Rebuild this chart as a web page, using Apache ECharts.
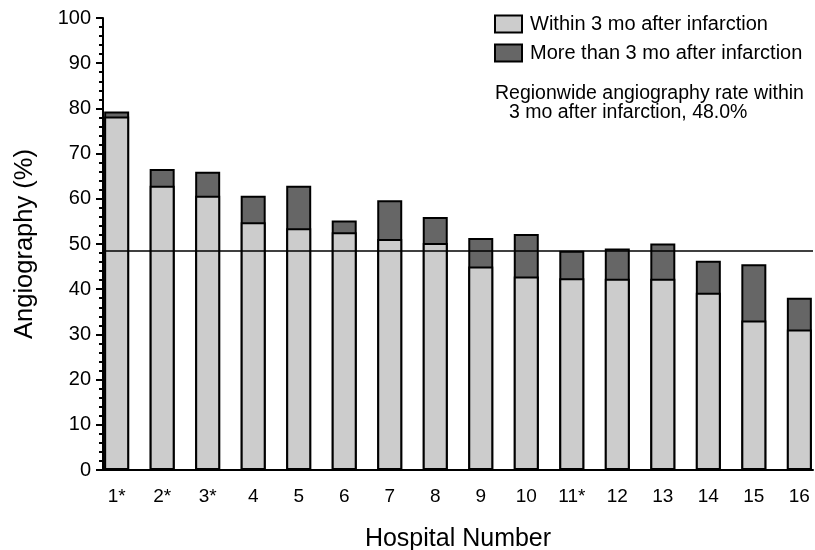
<!DOCTYPE html>
<html><head><meta charset="utf-8">
<script src="https://cdn.jsdelivr.net/npm/echarts@6/dist/echarts.min.js"></script>
<style>html,body{margin:0;padding:0;background:#fff}#c{width:815px;height:550px}</style>
</head><body><div id="c"></div>
<script>
const categories = ['1*','2*','3*','4','5','6','7','8','9','10','11*','12','13','14','15','16'];
const withinValues = [78.2, 62.9, 60.7, 54.8, 53.5, 52.6, 51.1, 50.2, 45.0, 42.8, 42.4, 42.3, 42.3, 39.2, 33.1, 31.1];
const laterValues  = [1.1, 3.7, 5.3, 5.9, 9.4, 2.6, 8.6, 5.8, 6.3, 9.4, 6.1, 6.7, 7.8, 7.1, 12.4, 7.0];
const refRate = 48.4;
const seriesNames = ['Within 3 mo after infarction', 'More than 3 mo after infarction'];
const noteLines = ['Regionwide angiography rate within', '3 mo after infarction, 48.0%'];
const xTitle = 'Hospital Number';
const yTitle = 'Angiography (%)';

const FONT = '"Liberation Sans", Arial, Helvetica, sans-serif';
const chart = echarts.init(document.getElementById('c'), null, {renderer: 'canvas'});
const positions = categories.map((c, i) => i + 1);

// The later segment sits on top of the within segment: the dark bar spans
// the stacked total and the light bar is drawn over its lower part.
const option = {
  animation: false,
  grid: {left: 103, right: 2, top: 18, bottom: 80, containLabel: false, outerBoundsMode: 'none'},
  xAxis: {
    type: 'value', min: 0.7, max: 16.3, interval: 0.1,
    axisLine: {show: true, onZero: false, lineStyle: {color: '#000', width: 2}},
    axisTick: {show: false}, splitLine: {show: false},
    axisLabel: {
      color: '#000', fontSize: 19, margin: 17, fontFamily: FONT,
      showMinLabel: true, showMaxLabel: true,
      formatter: function (v) {
        const r = Math.round(v);
        return (Math.abs(v - r) < 1e-6 && r >= 1 && r <= categories.length) ? categories[r - 1] : '';
      }
    },
    name: xTitle, nameLocation: 'middle', nameGap: 57,
    nameTextStyle: {color: '#000', fontSize: 25, fontFamily: FONT}
  },
  yAxis: {
    type: 'value', min: 0, max: 100, interval: 10,
    axisLine: {show: true, onZero: false, lineStyle: {color: '#000', width: 2}},
    axisTick: {show: true, length: 7, lineStyle: {color: '#000', width: 2}},
    minorTick: {show: true, splitNumber: 5, length: 4, lineStyle: {color: '#000', width: 2}},
    splitLine: {show: false},
    axisLabel: {color: '#000', fontSize: 20, margin: 12, fontFamily: FONT},
    name: yTitle, nameLocation: 'middle', nameGap: 65,
    nameTextStyle: {color: '#000', fontSize: 25.5, fontFamily: FONT}
  },
  legend: {
    show: true, orient: 'vertical', left: 489, top: 9,
    itemWidth: 27, itemHeight: 17, itemGap: 9, icon: 'rect',
    textStyle: {fontSize: 20, color: '#000', fontFamily: FONT, padding: [0, 0, 0, 3]},
    data: seriesNames
  },
  graphic: [
    {type: 'text', left: 495, top: 84, style: {text: noteLines[0], fontSize: 19.5, fill: '#000', fontFamily: FONT}},
    {type: 'text', left: 509, top: 103, style: {text: noteLines[1], fontSize: 19.5, fill: '#000', fontFamily: FONT}}
  ],
  series: [
    {
      name: seriesNames[1], type: 'bar', barWidth: 25, barGap: '-100%', z: 2,
      data: positions.map((x, i) => [x, withinValues[i] + laterValues[i]]),
      itemStyle: {color: '#666666', borderColor: '#000', borderWidth: 2}
    },
    {
      name: seriesNames[0], type: 'bar', barWidth: 25, barGap: '-100%', z: 3,
      data: positions.map((x, i) => [x, withinValues[i]]),
      itemStyle: {color: '#cccccc', borderColor: '#000', borderWidth: 2},
      markLine: {
        silent: true, symbol: 'none', label: {show: false}, z: 5,
        lineStyle: {color: '#000', width: 1.5, type: 'solid'},
        data: [{yAxis: refRate}]
      }
    }
  ]
};
chart.setOption(option);
</script>
</body></html>
